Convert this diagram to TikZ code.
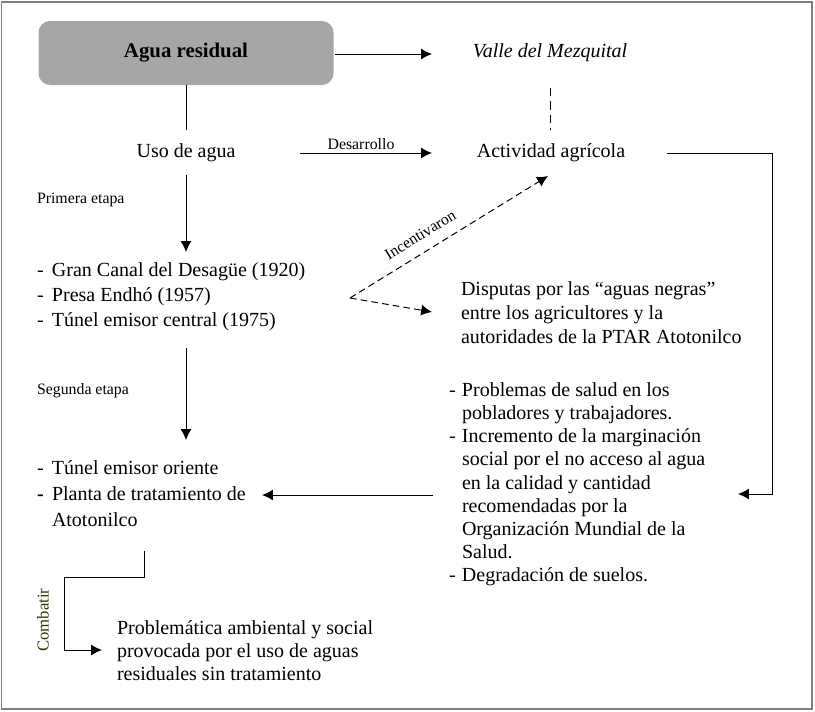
\documentclass[tikz,border=0pt]{standalone}
\usepackage{fontspec}
\setmainfont{Liberation Serif}
\usetikzlibrary{arrows.meta}
\definecolor{boxgray}{RGB}{166,166,166}
\definecolor{framegray}{RGB}{128,128,128}
\definecolor{olivetxt}{RGB}{45,55,0}
\begin{document}
\begin{tikzpicture}[x=0.6pt,y=-0.6pt,
  every node/.style={inner sep=0pt,outer sep=0pt},
  main/.style={font=\fontsize{12}{14}\selectfont},
  small/.style={font=\fontsize{9.5}{11}\selectfont},
  conn/.style={line width=0.6pt},
  arr/.style={conn,-{Latex[length=6.5pt,width=6.5pt]}},
  darr/.style={arr,dash pattern=on 4pt off 2.5pt},
  dline/.style={conn,dash pattern=on 5pt off 3pt}]
\useasboundingbox (0,0) rectangle (815,712);
\draw[framegray,line width=1.2pt] (1.5,1.5) rectangle (812,709);

% nodes
\node[fill=boxgray,rounded corners=7pt,minimum width=295*0.6pt,minimum height=64*0.6pt,
      font=\fontsize{12.5}{14}\selectfont\bfseries] (agua) at (186,53) {Agua residual};
\node[main,font=\fontsize{12}{14}\selectfont\itshape] (valle) at (550,53) {Valle del Mezquital};
\node[main] (uso) at (186,153) {Uso de agua};
\node[main] (act) at (551,153) {Actividad agrícola};
\node[small,anchor=west] (prim) at (37,200) {Primera etapa};
\node[small,anchor=west] (seg) at (37,391) {Segunda etapa};
\node[small] (desa) at (361,144) {Desarrollo};

\node[anchor=west,font=\fontsize{12}{15}\selectfont] (lista1) at (37,296)
 {\begin{tabular}{@{}p{9pt}@{}l@{}}
  -& Gran Canal del Desagüe (1920)\\
  -& Presa Endhó (1957)\\
  -& Túnel emisor central (1975)
  \end{tabular}};
\node[anchor=west,font=\fontsize{12}{15.6}\selectfont] (lista2) at (37,495)
 {\begin{tabular}{@{}p{9pt}@{}l@{}}
  -& Túnel emisor oriente\\
  \textbf{-}& Planta de tratamiento de\\
   & Atotonilco
  \end{tabular}};
\node[anchor=west,font=\fontsize{12}{14.4}\selectfont] (disp) at (461,315)
 {\begin{tabular}{@{}l@{}}
  Disputas por las “aguas negras”\\
  entre los agricultores y la\\
  autoridades de la PTAR Atotonilco
  \end{tabular}};
\node[anchor=west,font=\fontsize{12}{13.9}\selectfont] (probs) at (449,484.5)
 {\begin{tabular}{@{}p{7.8pt}@{}l@{}}
  -& Problemas de salud en los\\
   & pobladores y trabajadores.\\
  -& Incremento de la marginación\\
   & social por el no acceso al agua\\
   & en la calidad y cantidad\\
   & recomendadas por la\\
   & Organización Mundial de la\\
   & Salud.\\
  -& Degradación de suelos.
  \end{tabular}};
\node[anchor=west,font=\fontsize{12}{13.8}\selectfont] (probl) at (117,653)
 {\begin{tabular}{@{}l@{}}
  Problemática ambiental y social\\
  provocada por el uso de aguas\\
  residuales sin tratamiento
  \end{tabular}};

% coordinates for connector ends
\coordinate (a1) at (agua.south);
\coordinate (u1) at (186,130);
\coordinate (u2) at (186,175);
\coordinate (l1in) at (186,252);
\coordinate (l1out) at (186,348);
\coordinate (l2in) at (186,440);
\coordinate (vdash1) at (550,88);
\coordinate (vdash2) at (550,130);
\coordinate (agR) at (335,54);
\coordinate (vaL) at (432,54);
\coordinate (usoR) at (300,153);
\coordinate (actL) at (432,153);
\coordinate (fork) at (350,298);
\coordinate (actB) at (548,176);
\coordinate (dispL) at (432,312);
\coordinate (actR) at (667,153);
\coordinate (corner1) at (772,153);
\coordinate (corner2) at (772,494);
\coordinate (probR) at (738,494);
\coordinate (probL) at (433,495);
\coordinate (l2R) at (262,495);
\coordinate (c1) at (144,551);
\coordinate (c2) at (144,577);
\coordinate (c3) at (64,577);
\coordinate (c4) at (64,650);
\coordinate (problL) at (102,650);

% connectors
\draw[arr] (agR) -- (vaL);
\draw[conn] (a1) -- (u1);
\draw[dline] (vdash1) -- (vdash2);
\draw[arr] (usoR) -- (actL);
\draw[arr] (u2) -- (l1in);
\draw[darr] (fork) -- node[sloped,above=7pt,small,pos=0.4] (inc) {Incentivaron} (actB);
\draw[darr] (fork) -- (dispL);
\draw[arr] (actR) -- (corner1) -- (corner2) -- (probR);
\draw[arr] (l1out) -- (l2in);
\draw[arr] (probL) -- (l2R);
\draw[arr] (c1) -- (c2) -- (c3) -- (c4) -- (problL);
\node[font=\fontsize{10}{11}\selectfont,rotate=90,text=olivetxt] (comb) at (43,620) {Combatir};
\end{tikzpicture}
\end{document}
